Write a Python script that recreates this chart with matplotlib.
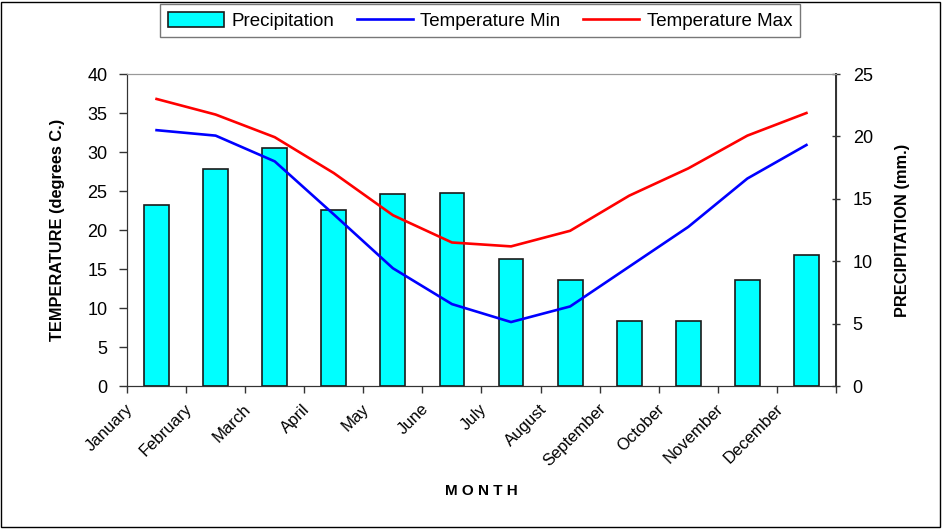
import matplotlib.pyplot as plt
import numpy as np
from matplotlib.patches import Rectangle, Patch
from matplotlib.lines import Line2D
from matplotlib.transforms import ScaledTranslation

plt.rcParams['font.family'] = ['Liberation Sans', 'DejaVu Sans']

months = ["January", "February", "March", "April", "May", "June", "July",
          "August", "September", "October", "November", "December"]
precip = [14.5, 17.4, 19.1, 14.1, 15.4, 15.5, 10.2, 8.5, 5.2, 5.2, 8.5, 10.5]
temp_min = [32.8, 32.1, 28.8, 22.0, 15.1, 10.5, 8.2, 10.2, 15.3, 20.4, 26.6, 30.9]
temp_max = [36.8, 34.8, 31.9, 27.3, 21.9, 18.4, 17.9, 19.9, 24.4, 27.9, 32.1, 35.0]

fig = plt.figure(figsize=(9.43, 5.29), dpi=100)
ax = fig.add_axes([0.1347, 0.2703, 0.7518, 0.5898])
ax2 = ax.twinx()

x = np.arange(len(months)) + 0.5
ax2.bar(x, precip, width=0.42, color="#00ffff", edgecolor="#1a1a1a", linewidth=1.2)
ax.plot(x, temp_min, color="#0000ff", lw=1.9)
ax.plot(x, temp_max, color="#ff0000", lw=1.9)

# lines sit above the bars
ax.set_zorder(ax2.get_zorder() + 1)
ax.patch.set_visible(False)

ax.set_xlim(0, 12)
ax.set_ylim(0, 40)
ax2.set_ylim(0, 25)
ax.set_yticks(np.arange(0, 41, 5))
ax2.set_yticks(np.arange(0, 26, 5))
ax.set_xticks(np.arange(0, 13))
ax.set_xticklabels([])

# month names hang off the left tick of each category
nudge = ScaledTranslation(2.5 / 72, 0, fig.dpi_scale_trans)
for i, m in enumerate(months):
    ax.text(i, -0.066, m, transform=ax.get_xaxis_transform() + nudge,
            rotation=45, ha="right", va="center", rotation_mode="anchor",
            fontsize=12)

ax.tick_params(axis="y", labelsize=13, length=6, width=1, color="#333333", pad=8)
ax.tick_params(axis="x", length=5, width=1, color="#333333", pad=0)
ax2.tick_params(axis="y", labelsize=13, length=6, width=1, color="#333333",
                direction="inout", pad=9)

for a in (ax, ax2):
    a.spines["top"].set_color("#999999")
    a.spines["left"].set_color("#333333")
    a.spines["right"].set_color("#333333")
    a.spines["bottom"].set_color("#333333")
ax2.spines["right"].set_linewidth(1.4)

ax.set_ylabel("TEMPERATURE (degrees C.)", fontsize=11.8, fontweight="bold", labelpad=16)
ax2.set_ylabel("PRECIPITATION (mm.)", fontsize=11.8, fontweight="bold", labelpad=16)
fig.text(0.511, 0.072, "M O N T H", ha="center", va="center",
         fontsize=11, fontweight="bold")

handles = [Patch(facecolor="#00ffff", edgecolor="#1a1a1a", linewidth=1.2),
           Line2D([], [], color="#0000ff", lw=1.9),
           Line2D([], [], color="#ff0000", lw=1.9)]
leg = fig.legend(handles, ["Precipitation", "Temperature Min", "Temperature Max"],
                 loc="center", bbox_to_anchor=(0.509, 0.961), ncol=3,
                 fontsize=13.5, frameon=True, fancybox=False, handlelength=3.0,
                 handleheight=0.85, handletextpad=0.4, columnspacing=1.2,
                 borderpad=0.4)
leg.get_frame().set_edgecolor("#555555")
leg.get_frame().set_linewidth(1)

fig.patches.append(Rectangle((0.001, 0.003), 0.996, 0.993, transform=fig.transFigure,
                             fill=False, edgecolor="black", linewidth=1))

fig.savefig("out.png", dpi=100)
